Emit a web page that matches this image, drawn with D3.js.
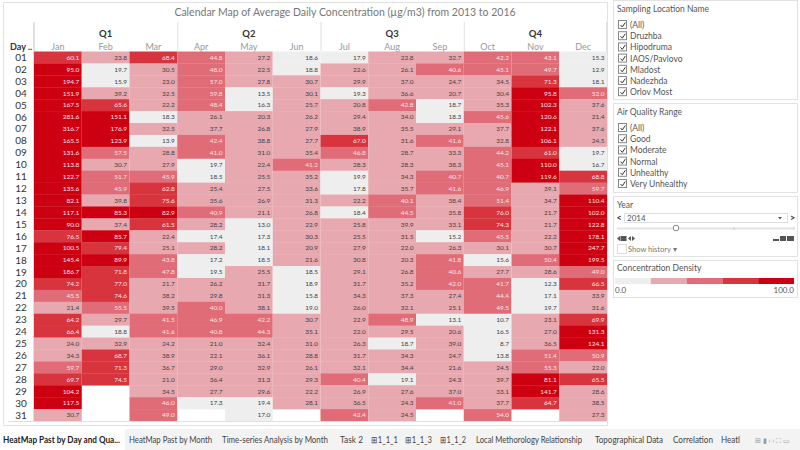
<!DOCTYPE html>
<html><head><meta charset="utf-8">
<script src="https://cdn.jsdelivr.net/npm/d3@7"></script>
<style>body{margin:0;background:#fff;}svg{display:block;font-family:Lato,"Open Sans",sans-serif;}</style>
</head><body>
<script>
const months = ["Jan","Feb","Mar","Apr","May","Jun","Jul","Aug","Sep","Oct","Nov","Dec"];
const quarters = ["Q1","Q2","Q3","Q4"];
const days = d3.range(1,32).map(d=>String(d).padStart(2,"0"));
const jan = [60.1,95.0,194.7,151.9,167.5,281.6,316.7,165.5,131.6,113.8,122.7,135.6,82.1,117.1,90.0,76.5,100.5,145.4,186.7,74.2,45.5,21.4,64.2,66.4,24.0,34.3,59.7,69.7,104.2,117.5,30.7];
const feb = [23.8,19.7,15.9,39.2,65.6,151.1,176.9,123.9,57.5,30.7,51.7,45.9,39.8,85.3,37.4,85.7,79.4,89.9,71.8,77.0,74.6,55.5,29.7,18.8,32.9,68.7,71.3,74.5,null,null,null];
const mar = [68.4,30.5,23.0,32.5,22.2,18.3,32.5,13.9,28.8,27.9,45.9,62.8,75.6,82.9,61.5,22.4,25.1,43.8,47.8,21.7,38.2,39.5,41.5,41.6,24.2,38.9,36.7,21.0,34.5,46.0,49.0];
const apr = [44.8,48.0,57.0,59.8,48.4,26.1,37.7,42.4,41.0,19.7,18.5,25.4,35.6,40.9,28.2,17.4,28.2,17.2,19.5,26.2,29.8,40.0,46.9,40.8,21.0,22.1,29.0,36.4,27.7,17.3,null];
const may = [27.2,22.5,27.8,13.5,16.3,20.3,26.8,38.8,31.0,22.4,25.5,27.5,26.9,21.1,13.0,17.3,18.1,18.5,25.5,31.7,31.3,38.1,42.2,44.3,32.4,36.1,32.9,31.3,29.6,19.4,17.0];
const jun = [18.6,18.8,30.7,30.1,25.7,26.2,27.9,27.7,35.4,41.2,35.2,33.6,31.3,26.8,22.9,30.3,20.9,21.6,18.5,18.9,15.8,19.0,30.7,35.1,31.0,28.8,26.1,29.3,22.2,28.1,null];
const jul = [17.9,22.6,29.9,19.3,20.8,29.4,38.9,67.0,46.8,28.3,19.9,17.8,22.2,18.4,25.8,25.5,27.9,30.8,29.1,31.7,34.3,26.0,22.9,22.0,26.3,31.7,32.1,40.4,26.9,36.5,42.4];
const aug = [22.8,26.1,37.0,36.6,42.8,34.0,35.5,31.6,28.7,28.3,34.3,35.7,40.1,44.5,39.9,31.5,22.0,20.3,26.8,35.2,37.3,32.1,48.9,29.5,18.7,34.3,34.4,19.1,27.6,24.3,24.5];
const sep = [32.7,40.6,24.7,20.7,18.7,18.3,29.1,41.6,33.3,38.3,40.7,41.6,38.4,35.8,33.1,15.2,26.3,41.8,40.6,42.0,27.4,25.1,13.1,20.6,39.0,24.7,21.6,24.3,37.0,41.0,null];
const oct = [42.2,45.1,34.5,30.4,35.3,45.6,37.7,32.8,44.2,45.1,40.7,46.9,51.4,76.0,74.3,45.5,30.1,15.6,27.7,41.7,44.4,49.5,10.7,16.5,8.7,13.8,24.5,39.7,33.1,37.7,54.0];
const nov = [43.1,49.7,71.3,95.8,102.3,120.6,122.1,106.1,61.0,110.0,119.6,39.1,34.7,21.7,21.7,22.2,30.7,50.4,28.6,12.3,17.1,19.7,23.1,27.0,36.5,51.4,55.3,81.1,141.7,64.7,null];
const dec = [15.3,12.9,18.1,52.0,37.6,21.4,37.6,24.5,19.7,16.7,68.8,59.7,110.4,102.0,122.8,178.1,247.7,199.5,49.0,66.5,33.9,31.6,69.9,131.3,124.1,50.9,22.0,65.5,28.6,38.5,27.3];
const monthValues = [jan,feb,mar,apr,may,jun,jul,aug,sep,oct,nov,dec];
const locations = ["(All)","Druzhba","Hipodruma","IAOS/Pavlovo","Mladost","Nadezhda","Orlov Most"];
const ranges = ["(All)","Good","Moderate","Normal","Unhealthy","Very Unhealthy"];
const tabs = ["HeatMap Past by Day and Qua...","HeatMap Past by Month","Time-series Analysis by Month","Task 2","⊞1_1_1","⊞1_1_3","⊞1_1_2","Local Methorology Relationship","Topographical Data","Correlation","Heatl"];
const binEdges = [20,40,60,80];
const binColors = ["#eeeeee","#e8a8af","#df6c76","#d7343e","#cc0011"];

const W=800,H=450;
const svg=d3.select("body").append("svg").attr("width",W).attr("height",H);

// sheet frame
svg.append("rect").attr("x",3.5).attr("y",2.5).attr("width",604).attr("height",423).attr("fill","none").attr("stroke","#e2e2e2");

svg.append("text").attr("x",345).attr("y",16).attr("text-anchor","middle").attr("font-size",10.5).attr("fill","#777")
  .text("Calendar Map of Average Daily Concentration (µg/m3)  from 2013 to 2016");

const x=d3.scaleBand().domain(months).range([34,607]);
const y=d3.scaleBand().domain(days).range([51.5,421]);
const color=d3.scaleThreshold().domain(binEdges).range(binColors);

// header lines
const hdr=svg.append("g");
[0,3,6,9].forEach(i=>{
  hdr.append("line").attr("x1",x(months[i])+0.5).attr("x2",x(months[i])+0.5).attr("y1",22).attr("y2",51).attr("stroke","#e0e0e0");
});
hdr.append("line").attr("x1",606.5).attr("x2",606.5).attr("y1",22).attr("y2",421).attr("stroke","#e0e0e0");
hdr.append("line").attr("x1",33.5).attr("x2",33.5).attr("y1",22).attr("y2",421).attr("stroke","#e0e0e0");
quarters.forEach((q,i)=>{
  const cx = x(months[i*3]) + x.bandwidth()*1.5;
  hdr.append("text").attr("x",cx).attr("y",37).attr("text-anchor","middle").attr("font-size",9.5).attr("font-weight","bold").attr("fill","#333").text(q);
});
months.forEach(m=>{
  hdr.append("text").attr("x",x(m)+x.bandwidth()/2).attr("y",50).attr("text-anchor","middle").attr("font-size",9).attr("fill","#999").text(m);
});
hdr.append("text").attr("x",10).attr("y",50).attr("font-size",9).attr("font-weight","bold").attr("fill","#333").text("Day ..");

// cells
const cells=[];
months.forEach((m,mi)=>days.forEach((d,di)=>{const v=monthValues[mi][di]; if(v!==null) cells.push({m,d,v});}));
const g=svg.append("g");
g.selectAll("rect").data(cells).join("rect")
  .attr("x",c=>x(c.m)).attr("y",c=>y(c.d)).attr("width",x.bandwidth()).attr("height",y.bandwidth()+0.3)
  .attr("fill",c=>color(c.v));
g.selectAll("text").data(cells).join("text")
  .attr("x",c=>x(c.m)+x.bandwidth()-2.5).attr("y",c=>y(c.d)+y.bandwidth()/2+2.3)
  .attr("text-anchor","end").attr("font-size",6.5)
  .attr("fill",c=>c.v>=40?"#fbe3e5":"#444").text(c=>c.v.toFixed(1));

// day labels
svg.append("g").selectAll("text").data(days).join("text")
  .attr("x",21).attr("y",d=>y(d)+y.bandwidth()/2+3.5).attr("text-anchor","middle").attr("font-size",10).attr("fill","#333").text(d=>d);

svg.append("line").attr("x1",8).attr("x2",606).attr("y1",421.5).attr("y2",421.5).attr("stroke","#e0e0e0");

// right panel
const rp=svg.append("g");
function box(y0,h){rp.append("rect").attr("x",613.5).attr("y",y0+0.5).attr("width",184).attr("height",h).attr("fill","#fff").attr("stroke","#e2e2e2");}
function checkItem(yc,label){
  rp.append("rect").attr("x",618.5).attr("y",yc-4.5).attr("width",8).attr("height",8).attr("fill","#fff").attr("stroke","#888");
  rp.append("path").attr("d",`M${620.5},${yc} l1.8,2 l3,-4.5`).attr("fill","none").attr("stroke","#333").attr("stroke-width",1);
  rp.append("text").attr("x",630).attr("y",yc+3).attr("font-size",8.5).attr("fill","#555").text(label);
}
box(0,99);
rp.append("text").attr("x",617).attr("y",12).attr("font-size",8.5).attr("fill","#555").text("Sampling Location Name");
locations.forEach((l,i)=>checkItem(25+i*11.2,l));
box(103,89);
rp.append("text").attr("x",617).attr("y",115).attr("font-size",8.5).attr("fill","#555").text("Air Quality Range");
ranges.forEach((l,i)=>checkItem(128+i*11.2,l));
box(196,60);
rp.append("text").attr("x",617).attr("y",208).attr("font-size",8.5).attr("fill","#555").text("Year");
rp.append("rect").attr("x",624.5).attr("y",213.5).attr("width",163).attr("height",9).attr("fill","#fff").attr("stroke","#ddd");
rp.append("text").attr("x",616.5).attr("y",221).attr("font-size",9).attr("font-weight","bold").attr("fill","#333").text("<");
rp.append("text").attr("x",790).attr("y",221).attr("font-size",9).attr("font-weight","bold").attr("fill","#333").text(">");
rp.append("text").attr("x",627).attr("y",220.5).attr("font-size",8).attr("fill","#555").text("2014");
rp.append("path").attr("d","M778,217 l4,0 l-2,2.5 z").attr("fill","#555");
rp.append("line").attr("x1",617).attr("x2",794).attr("y1",228.5).attr("y2",228.5).attr("stroke","#e3e3e3").attr("stroke-width",2);
[734,794].forEach(t=>rp.append("line").attr("x1",t).attr("x2",t).attr("y1",227).attr("y2",230).attr("stroke","#ccc"));
rp.append("circle").attr("cx",676).attr("cy",228).attr("r",2.8).attr("fill","#fff").attr("stroke","#888");
rp.append("path").attr("d","M617,238.5 l3,-2.5 l0,5 z M628,238.5 l3,-2.5 l0,5 z").attr("fill","#555");
rp.append("rect").attr("x",620.5).attr("y",236).attr("width",6).attr("height",5).attr("fill","#555");
rp.append("path").attr("d","M632,236 l3,2.5 l-3,2.5 z").attr("fill","#555");
rp.append("rect").attr("x",773).attr("y",239).attr("width",6).attr("height",2).attr("fill","#555");
rp.append("rect").attr("x",780).attr("y",236).attr("width",6).attr("height",5).attr("fill","#555");
rp.append("rect").attr("x",787).attr("y",236).attr("width",7).attr("height",5).attr("fill","#555");
rp.append("rect").attr("x",617.5).attr("y",244.5).attr("width",9).attr("height",9).attr("fill","#fff").attr("stroke","#ddd");
rp.append("text").attr("x",628).attr("y",251.5).attr("font-size",7.5).attr("fill","#777").text("Show history ▾");
box(260,37);
rp.append("text").attr("x",617).attr("y",271).attr("font-size",8.5).attr("fill","#555").text("Concentration Density");
const lx=d3.scaleLinear().domain([0,binColors.length]).range([615,794]);
rp.selectAll("rect.leg").data(binColors).join("rect").attr("class","leg")
  .attr("x",(c,i)=>lx(i)).attr("y",278).attr("width",lx(1)-lx(0)).attr("height",6).attr("fill",c=>c);
rp.append("text").attr("x",615).attr("y",293).attr("font-size",8).attr("fill","#555").text("0.0");
rp.append("text").attr("x",794).attr("y",293).attr("text-anchor","end").attr("font-size",8).attr("fill","#555").text("100.0");

// tab bar
const tb=svg.append("g");
tb.append("rect").attr("x",0).attr("y",429).attr("width",800).attr("height",21).attr("fill","#f3f3f3");
const tabX=[3,129,222,340,371,405,440,476,595,673,721];
const tabW=[117,83,106,23,27,27,26,106,68,40,19];
tb.append("rect").attr("x",0).attr("y",429).attr("width",125).attr("height",21).attr("fill","#fff");
tabs.forEach((t,i)=>{
  tb.append("text").attr("x",tabX[i]).attr("y",443).attr("font-size",9).attr("fill",i===0?"#222":"#444")
    .attr("font-weight",i===0?"bold":"normal").attr("textLength",tabW[i]).attr("lengthAdjust","spacingAndGlyphs").text(t);
});
tb.append("text").attr("x",755).attr("y",443).attr("font-size",7).attr("fill","#999").text("⊞ ▮ ‹ › ⛶ ▭");
</script>
</body></html>
